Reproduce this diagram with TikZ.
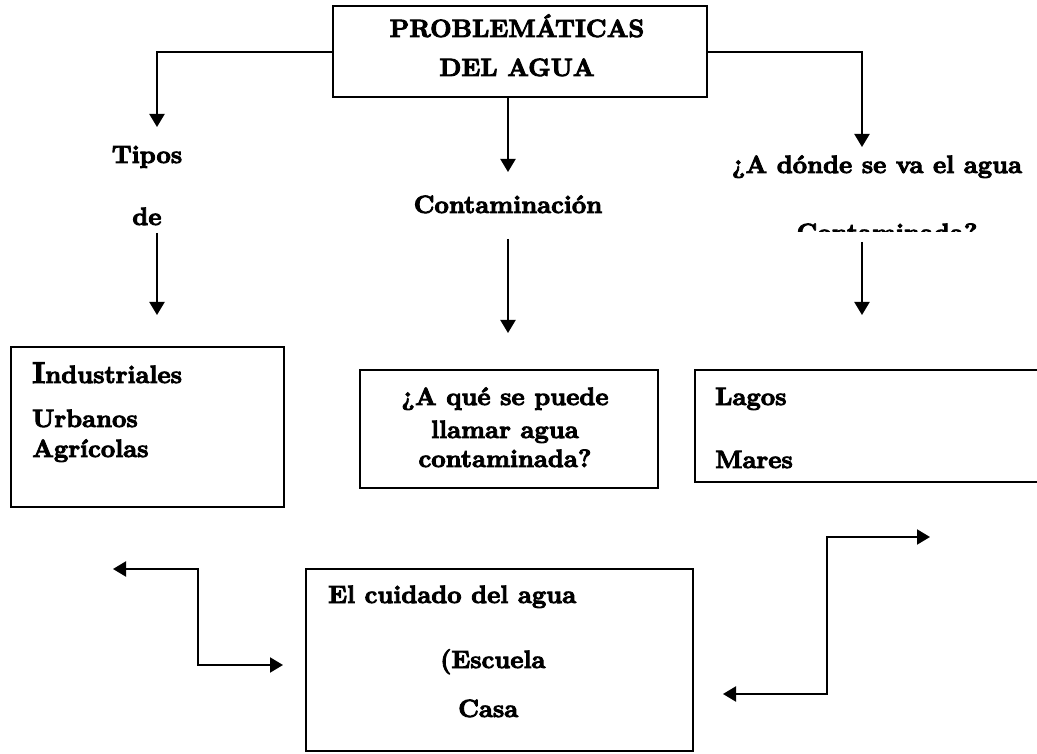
\documentclass[tikz,border=0pt]{standalone}
\usepackage{fontspec}
\usetikzlibrary{arrows.meta,calc}
\newfontfamily\heavy{lmroman10-bold.otf}[FakeBold=3.5]
\tikzset{
  frame/.style={draw, line width=2.2pt, inner sep=0pt},
  lbl/.style={font=\heavy\fontsize{25}{28}\selectfont, inner sep=0pt},
  arr/.style={line width=2pt, -{Triangle[length=13pt,width=15pt]}},
  twoarr/.style={line width=2pt, {Triangle[length=13pt,width=15pt]}-{Triangle[length=13pt,width=15pt]}}
}
\begin{document}
\begin{tikzpicture}[x=1pt, y=-1pt]
\useasboundingbox (0,0) rectangle (1037,754);
\clip (0,0) rectangle (1037,754);
% top box
\node[frame, minimum width=374pt, minimum height=91pt] (top) at (520,51.5) {};
\node[lbl, anchor=base] (prob) at (517,37) {PROBLEMÁTICAS};
\node[lbl, anchor=base] (agua) at (517,76) {DEL AGUA};
% second row of labels
\node[lbl, anchor=base] (tipos) at (147,163) {Tipos};
\node[lbl, anchor=base] (de) at (147,225) {de};
\node[lbl, anchor=base] (cont) at (508,213) {Contaminación};
\node[lbl, anchor=base] (donde) at (877,173) {¿A dónde se va el agua};
\begin{scope}
\clip (700,200) rectangle (1037,232);
\node[lbl, anchor=base] (contda) at (887,241) {Contaminada?};
\end{scope}
% arrows from the top box
\coordinate (l1) at (157,127);
\coordinate (c1) at (508,172);
\coordinate (r1) at (862,147);
\draw[arr] (top.west |- 0,52) -| (l1);
\draw[arr] (top.south -| c1) -- (c1);
\draw[arr] (top.east |- 0,52) -| (r1);
% arrows down to the boxes
\coordinate (l2) at (157,233);
\coordinate (l3) at (157,315);
\coordinate (c2) at (508,239);
\coordinate (c3) at (508,333);
\coordinate (r2) at (862,242);
\coordinate (r3) at (862,315);
\draw[arr] (l2) -- (l3);
\draw[arr] (c2) -- (c3);
\draw[arr] (r2) -- (r3);
% boxes
\node[frame, minimum width=273pt, minimum height=160pt] (tiposbox) at (147.5,427) {};
\node[lbl, anchor=base west] (ind) at (32,383) {{\fontsize{30}{32}\selectfont I}ndustriales};
\node[lbl, anchor=base west] (urb) at (32,427) {Urbanos};
\node[lbl, anchor=base west] (agr) at (32,457) {Agrícolas};
\node[frame, minimum width=298pt, minimum height=118pt] (quebox) at (509,429) {};
\node[lbl, anchor=base] (q1) at (505,405) {¿A qué se puede};
\node[lbl, anchor=base] (q2) at (505,438) {llamar agua};
\node[lbl, anchor=base] (q3) at (505,467) {contaminada?};
\node[frame, minimum width=355pt, minimum height=112pt] (lagbox) at (872.5,426) {};
\node[lbl, anchor=base west] (lagos) at (715,405) {Lagos};
\node[lbl, anchor=base west] (mares) at (715,468) {Mares};
\node[frame, minimum width=387pt, minimum height=182pt] (cuibox) at (499.5,660) {};
\node[lbl, anchor=base west] (cui) at (328,603) {El cuidado del agua};
\node[lbl, anchor=base west] (esc) at (440,668) {(Escuela};
\node[lbl, anchor=base west] (casa) at (458,717) {Casa};
% elbow arrows
\coordinate (bl1) at (113,569);
\coordinate (bl2) at (283,665);
\coordinate (br1) at (930,537);
\coordinate (br2) at (723,694);
\draw[twoarr] (bl1) -| ($(bl1)!.5!(bl2)$) |- (bl2);
\draw[twoarr] (br1) -| ($(br1)!.5!(br2)$) |- (br2);
\end{tikzpicture}
\end{document}
